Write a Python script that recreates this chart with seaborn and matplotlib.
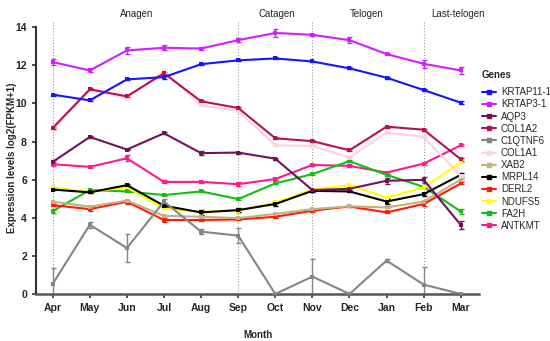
"""Seasonal expression of hair follicle genes"""
import numpy as np
import pandas as pd
import matplotlib
matplotlib.use('Agg')
import matplotlib.pyplot as plt
import seaborn as sns

months = ['Apr', 'May', 'Jun', 'Jul', 'Aug', 'Sep', 'Oct', 'Nov', 'Dec', 'Jan', 'Feb', 'Mar']
genes = ['KRTAP11-1', 'KRTAP3-1', 'AQP3', 'COL1A2', 'C1QTNF6', 'COL1A1',
         'XAB2', 'MRPL14', 'DERL2', 'NDUFS5', 'FA2H', 'ANTKMT']
colors = ['#1414ff', '#d21eff', '#74105a', '#b8124e', '#858585', '#ffd3d8',
          '#c4b07e', '#000000', '#ff1a08', '#ffff00', '#10c010', '#ff1a8c']

# mean log2(FPKM+1) per month
krtap11_1 = [10.46, 10.16, 11.26, 11.38, 12.06, 12.26, 12.36, 12.20, 11.84, 11.35, 10.70, 10.04]
krtap3_1 = [12.17, 11.73, 12.78, 12.92, 12.88, 13.32, 13.70, 13.60, 13.32, 12.59, 12.08, 11.73]
aqp3 = [6.93, 8.24, 7.58, 8.43, 7.39, 7.42, 7.10, 5.45, 5.52, 5.94, 5.99, 3.62]
col1a2 = [8.71, 10.74, 10.37, 11.58, 10.11, 9.76, 8.17, 8.02, 7.54, 8.78, 8.62, 7.07]
c1qtnf6 = [0.53, 3.63, 2.41, 4.85, 3.27, 3.06, 0.0, 0.91, 0.0, 1.75, 0.49, 0.0]
col1a1 = [8.65, 10.70, 10.30, 11.70, 9.90, 9.60, 7.80, 7.77, 7.16, 8.47, 8.24, 6.20]
xab2 = [4.84, 4.58, 4.90, 4.10, 4.05, 3.98, 4.20, 4.45, 4.60, 4.54, 4.85, 6.00]
mrpl14 = [5.48, 5.33, 5.71, 4.63, 4.28, 4.40, 4.72, 5.41, 5.38, 4.85, 5.24, 6.25]
derl2 = [4.66, 4.45, 4.84, 3.88, 3.88, 3.91, 4.05, 4.37, 4.59, 4.28, 4.72, 5.80]
ndufs5 = [5.59, 5.36, 5.59, 4.49, 4.31, 4.37, 4.80, 5.47, 5.71, 5.06, 5.59, 6.90]
fa2h = [4.35, 5.45, 5.38, 5.19, 5.38, 4.98, 5.80, 6.29, 6.97, 6.25, 5.62, 4.33]
antkmt = [6.81, 6.67, 7.12, 5.88, 5.88, 5.76, 6.03, 6.77, 6.72, 6.37, 6.84, 7.80]

# standard errors
krtap11_1_se = [0.05, 0.05, 0.05, 0.08, 0.05, 0.05, 0.05, 0.05, 0.05, 0.05, 0.05, 0.08]
krtap3_1_se = [0.15, 0.08, 0.20, 0.12, 0.08, 0.10, 0.20, 0.05, 0.15, 0.05, 0.20, 0.18]
aqp3_se = [0.10, 0.05, 0.05, 0.05, 0.10, 0.05, 0.05, 0.08, 0.05, 0.15, 0.15, 0.20]
col1a2_se = [0.05, 0.05, 0.05, 0.08, 0.05, 0.05, 0.05, 0.05, 0.05, 0.05, 0.05, 0.08]
c1qtnf6_se = [0.85, 0.15, 0.75, 0.15, 0.15, 0.40, 0.0, 0.90, 0.0, 0.08, 0.95, 0.0]
col1a1_se = [0.05, 0.05, 0.08, 0.12, 0.05, 0.05, 0.05, 0.05, 0.05, 0.05, 0.05, 0.05]
xab2_se = [0.05] * 12
mrpl14_se = [0.05, 0.05, 0.05, 0.05, 0.12, 0.10, 0.08, 0.05, 0.05, 0.12, 0.08, 0.12]
derl2_se = [0.05, 0.08, 0.10, 0.08, 0.05, 0.05, 0.05, 0.05, 0.05, 0.05, 0.08, 0.05]
ndufs5_se = [0.08, 0.05, 0.05, 0.05, 0.05, 0.12, 0.10, 0.05, 0.05, 0.05, 0.05, 0.05]
fa2h_se = [0.08, 0.08, 0.05, 0.05, 0.05, 0.05, 0.05, 0.05, 0.05, 0.05, 0.08, 0.15]
antkmt_se = [0.10, 0.05, 0.15, 0.08, 0.05, 0.12, 0.05, 0.05, 0.08, 0.05, 0.05, 0.05]

phases = ['Anagen', 'Catagen', 'Telogen', 'Last-telogen']
phase_bounds = ['Apr', 'Sep', 'Nov', 'Feb']

values = [krtap11_1, krtap3_1, aqp3, col1a2, c1qtnf6, col1a1,
          xab2, mrpl14, derl2, ndufs5, fa2h, antkmt]
errors = [krtap11_1_se, krtap3_1_se, aqp3_se, col1a2_se, c1qtnf6_se, col1a1_se,
          xab2_se, mrpl14_se, derl2_se, ndufs5_se, fa2h_se, antkmt_se]

rows = []
for g, v, e in zip(genes, values, errors):
    for i, m in enumerate(months):
        rows.append({'Gene': g, 'Month': m, 'idx': i, 'value': v[i], 'se': e[i]})
df = pd.DataFrame(rows)

sns.set_style('ticks')
plt.rcParams['font.family'] = ['Liberation Sans', 'DejaVu Sans']

fig = plt.figure(figsize=(5.5, 3.41), dpi=100)
ax = fig.add_axes([0.0655, 0.138, 0.806, 0.799])

palette = dict(zip(genes, colors))
# draw in reverse so the top-listed genes sit on top
for g in genes[::-1]:
    sub = df[df['Gene'] == g]
    ax.errorbar(sub['idx'], sub['value'], yerr=sub['se'], fmt='none',
                ecolor=palette[g], elinewidth=1.0, capsize=1.8, capthick=1.0, zorder=2)

sns.lineplot(data=df, x='idx', y='value', hue='Gene', hue_order=genes[::-1],
             palette=palette, marker='s', markersize=3.5, markeredgewidth=0,
             linewidth=1.5, errorbar=None, ax=ax, zorder=3, legend=False)

# phase boundaries
for m in phase_bounds:
    ax.axvline(months.index(m), ymin=0, ymax=1, color='#999999', ls=':', lw=0.8, zorder=1)

phase_x = [2.27, 6.05, 8.46, 10.92]
for name, px in zip(phases, phase_x):
    ax.text(px, 1.008, name, transform=ax.get_xaxis_transform(), ha='center',
            va='bottom', fontsize=7)

ax.set_xlim(-0.45, 11.5)
ax.set_ylim(0, 14.3)
ax.set_yticks([0, 2, 4, 6, 8, 10, 12, 14])
ax.set_xticks(range(len(months)))
ax.set_xticklabels(months)
ax.spines['left'].set_bounds(0, 14)
for s in ['top', 'right']:
    ax.spines[s].set_visible(False)
ax.spines['left'].set_color('#333333')
ax.spines['bottom'].set_color('#555555')
ax.spines['left'].set_linewidth(1.5)
ax.spines['bottom'].set_linewidth(1.8)
ax.tick_params(axis='both', labelsize=7.5, width=1.2, length=3, color='#333333')
for lab in ax.get_xticklabels() + ax.get_yticklabels():
    lab.set_fontweight('bold')

ax.set_xlabel('Month', fontsize=7, fontweight='bold', labelpad=12)
ax.set_ylabel('Expression levels log2(FPKM+1)', fontsize=7, fontweight='bold')
ax.yaxis.set_label_coords(-0.043, 0.5)

fig.text(482 / 550, 1 - 75 / 341, 'Genes', fontsize=7, fontweight='bold', va='center')
handles = [plt.Line2D([], [], color=c, marker='s', markersize=3, lw=1.5) for c in colors]
leg = fig.legend(handles, genes, loc='upper left', bbox_to_anchor=(0.877, 0.744),
                 frameon=False, fontsize=7, handlelength=1.4,
                 handletextpad=0.5, labelspacing=0.22, borderaxespad=0, borderpad=0)

fig.savefig('out.png', dpi=100)
